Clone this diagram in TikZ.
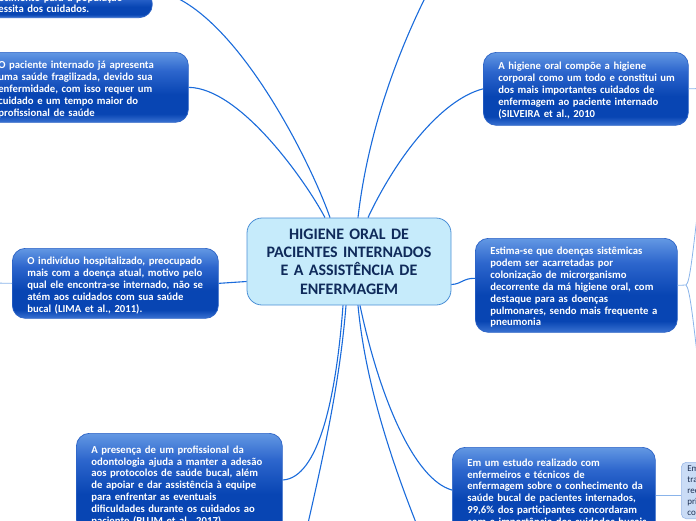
\documentclass[tikz,border=0pt]{standalone}
\usepackage{fontspec}
\setmainfont{Carlito}
\usetikzlibrary{calc}
\definecolor{btop}{HTML}{6398E3}
\definecolor{bmid}{HTML}{2D66CD}
\definecolor{bdark}{HTML}{0845B3}
\definecolor{bband}{HTML}{3A72D2}
\definecolor{bborder}{HTML}{2C63C6}
\definecolor{linec}{HTML}{1A6BDB}
\definecolor{sublinec}{HTML}{8AB4EA}
\definecolor{cfill}{HTML}{C6EBFB}
\definecolor{cborder}{HTML}{4B8FD6}
\definecolor{ctext}{HTML}{0F2A5A}
\definecolor{sbfill}{HTML}{CADCF6}
\definecolor{sbborder}{HTML}{9BB8E6}
\definecolor{sbtext}{HTML}{1D2F52}
\newcommand{\txtlines}[1]{\raisebox{-2.5pt}[\height][\depth]{\begin{tabular}[t]{@{}l@{}}#1\end{tabular}}}
\pgfdeclareverticalshading{topicshade}{100bp}{color(0bp)=(bband); color(25bp)=(bband); color(31bp)=(bdark); color(45bp)=(bdark); color(62bp)=(bmid); color(75bp)=(btop); color(100bp)=(btop)}
\tikzset{
  topic/.style={draw=bborder, line width=0.7pt, rounded corners=13pt, shade, shading=topicshade,
    text=white, font=\fontsize{10.7}{11.9}\selectfont\bfseries, align=left,
    inner xsep=15pt, inner ysep=4pt, anchor=north west},
  centraltopic/.style={draw=cborder, line width=0.8pt, rounded corners=15pt, fill=cfill,
    text=ctext, font=\fontsize{16}{18.4}\selectfont\bfseries, align=center,
    text width=185pt, minimum width=204pt, minimum height=87pt},
  smalltopic/.style={draw=sbborder, line width=0.6pt, rounded corners=5pt, fill=sbfill,
    text=sbtext, font=\fontsize{9}{10.9}\selectfont, align=left,
    inner xsep=6pt, inner ysep=3.5pt, anchor=north west, text width=100pt},
  conn/.style={draw=linec, line width=1.1pt},
  subconn/.style={draw=sublinec, line width=0.8pt}
}
\begin{document}
\begin{tikzpicture}[x=1pt,y=1pt]
\useasboundingbox (0,0) rectangle (696,-520);
\clip (0,0) rectangle (696,-520);

\node[centraltopic] (C) at (349,-261.5) {HIGIENE ORAL DE\\PACIENTES INTERNADOS\\E A ASSISTÊNCIA DE\\ENFERMAGEM};

\node[topic, anchor=south west, inner ysep=3pt, text width=175pt] (TL) at (-53,-18)
  {de conhecimento para a população\\que necessita dos cuidados.};
\node[topic, text width=175pt, minimum height=70pt] (L2) at (-17,-52)
  {\txtlines{O paciente internado já apresenta\\uma saúde fragilizada, devido sua\\enfermidade, com isso requer um\\cuidado e um tempo maior do\\profissional de saúde}};
\node[topic, text width=175pt, minimum height=73pt] (R1) at (483,-52)
  {\txtlines{A higiene oral compõe a higiene\\corporal como um todo e constitui um\\dos mais importantes cuidados de\\enfermagem ao paciente internado\\(SILVEIRA et al., 2010}};
\node[topic, text width=176pt, minimum height=70pt] (LM) at (12,-248)
  {\txtlines{O indivíduo hospitalizado, preocupado\\mais com a doença atual, motivo pelo\\qual ele encontra-se internado, não se\\atém aos cuidados com sua saúde\\bucal (LIMA et al., 2011).}};
\node[topic, text width=172pt, minimum height=94pt] (RM) at (475,-238)
  {\txtlines{Estima-se que doenças sistêmicas\\podem ser acarretadas por\\colonização de microrganismo\\decorrente da má higiene oral, com\\destaque para as doenças\\pulmonares, sendo mais frequente a\\pneumonia}};
\node[topic, text width=176pt, inner ysep=9pt] (BL) at (76,-433)
  {\txtlines{A presença de um profissional da\\odontologia ajuda a manter a adesão\\aos protocolos de saúde bucal, além\\de apoiar e dar assistência à equipe\\para enfrentar as eventuais\\dificuldades durante os cuidados ao\\paciente (BLUM et al., 2017).}};
\node[topic, text width=173pt, inner ysep=8pt] (BR) at (452,-447)
  {\txtlines{Em um estudo realizado com\\enfermeiros e técnicos de\\enfermagem sobre o conhecimento da\\saúde bucal de pacientes internados,\\99,6\% dos participantes concordaram\\com a importância dos cuidados bucais}};
\node[smalltopic] (SB) at (681,-462) {Em\\tra\\rec\\pri\\co};

\coordinate (topout) at (445,40);
\coordinate (bo1) at (303,-545);
\coordinate (bo2) at (425,-545);
\coordinate (r1out) at (700,-88.5);
\coordinate (lmout) at (-5,-283);
\coordinate (rmb) at (686,-285);
\coordinate (rmup) at (699,-200);
\coordinate (rmdn) at (699,-370);

\draw[conn] (TL.north east) .. controls (230,0) and (310,-160) .. ([xshift=-19pt]C.north);
\draw[conn] (L2.east) .. controls (240,-88) and (305,-180) .. ([xshift=-24pt]C.north);
\draw[conn] ([xshift=9pt]C.north) .. controls (368,-130) and (400,-40) .. (topout);
\draw[conn] ([xshift=19pt]C.north) .. controls (395,-160) and (440,-100) .. (R1.west);
\draw[conn] ([yshift=-20pt]C.west) -- (LM.east);
\draw[conn] ([yshift=-23pt]C.east) .. controls (462,-284) and (463,-278) .. ([yshift=7pt]RM.west);
\draw[conn] ([xshift=-6pt]C.south) .. controls (336,-400) and (318,-478) .. ([yshift=-47pt]BL.north east);
\draw[conn] ([xshift=-3pt]C.south) .. controls (340,-380) and (325,-450) .. (bo1);
\draw[conn] ([xshift=9pt]C.south) .. controls (365,-380) and (390,-460) .. (bo2);
\draw[conn] ([xshift=11pt]C.south) .. controls (380,-400) and (415,-480) .. ([yshift=-43pt]BR.north west);

\draw[subconn] (R1.east) -- (r1out);
\draw[subconn] (LM.west) -- (lmout);
\draw[subconn] (RM.east) -- (rmb) .. controls (690,-283) and (693,-250) .. (rmup);
\draw[subconn] (rmb) .. controls (690,-289) and (693,-320) .. (rmdn);
\draw[subconn] ([yshift=-48pt]BR.north east) -- ([yshift=-33pt]SB.north west);
\end{tikzpicture}
\end{document}
